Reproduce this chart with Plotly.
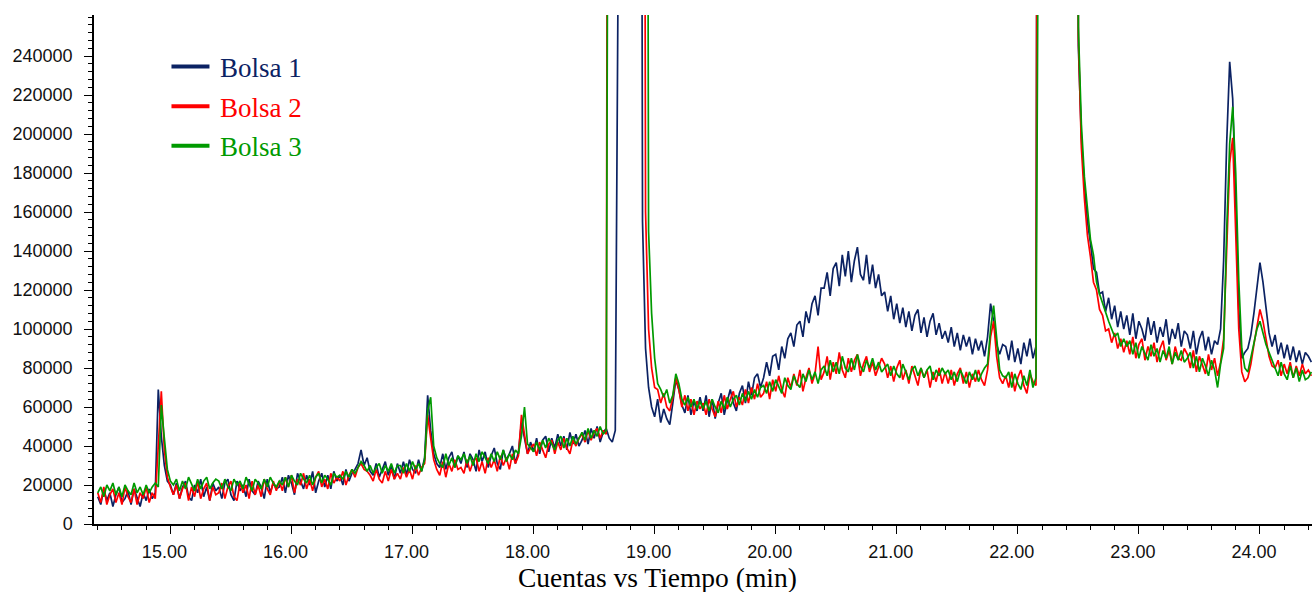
import plotly.graph_objects as go

# Sampling times (min): 0.025-min steps from 14.400 to 24.425
tiempo = [round(14.4 + 0.025 * i, 3) for i in range(402)]

# Counts in thousands (900 = above the top of the scale)
bolsa1_k = [
    14, 10, 18, 12, 16, 9, 15, 19, 11, 13, 17, 10, 18, 14, 9, 16, 12, 18, 13, 16,
    69, 45, 30, 22, 20, 15, 21, 13, 19, 22, 14, 12, 20, 16, 23, 14, 19, 12, 21, 17,
    19, 13, 21, 23, 15, 12, 22, 17, 20, 14, 23, 17, 15, 22, 19, 13, 23, 16, 21, 18,
    19, 24, 16, 25, 21, 15, 26, 22, 18, 25, 20, 27, 16, 22, 26, 19, 25, 18, 27, 22,
    25, 20, 28, 22, 26, 28, 31, 38, 30, 34, 27, 25, 31, 24, 28, 32, 25, 30, 23, 31,
    26, 32, 25, 33, 28, 26, 33, 27, 34, 66, 48, 36, 31, 29, 36, 28, 34, 37, 29, 35,
    31, 37, 29, 36, 33, 27, 38, 32, 37, 29, 35, 39, 31, 28, 38, 33, 36, 40, 31, 37,
    52, 44, 36, 42, 37, 44, 36, 43, 45, 37, 44, 39, 46, 40, 45, 38, 47, 41, 46, 40,
    43, 48, 41, 49, 44, 50, 42, 47, 49, 44, 42, 48, 300, 900, 900, 900, 900, 900, 900, 900,
    155, 90, 70, 60, 55, 64, 52, 59, 54, 51, 62, 74, 69, 61, 57, 66, 56, 63, 58, 65,
    58, 66, 55, 64, 54, 62, 67, 56, 63, 69, 62, 58, 67, 71, 62, 73, 66, 75, 77, 70,
    75, 83, 76, 86, 87, 79, 91, 85, 95, 98, 91, 102, 104, 96, 109, 103, 113, 117, 107, 121,
    121, 129, 117, 131, 134, 122, 138, 127, 140, 124, 135, 142, 128, 125, 138, 123, 133, 121, 128, 117,
    119, 109, 117, 105, 113, 103, 111, 101, 109, 99, 107, 110, 98, 106, 96, 104, 108, 97, 103, 95,
    99, 93, 101, 91, 98, 89, 97, 91, 96, 87, 95, 89, 94, 86, 96, 113, 104, 92, 87, 92,
    91, 84, 94, 83, 90, 82, 93, 86, 95, 85, 91, 900, 900, 900, 900, 900, 900, 900, 900, 900,
    900, 900, 900, 900, 245, 198, 174, 155, 144, 131, 129, 118, 119, 109, 116, 105, 112, 101, 109, 100,
    107, 97, 108, 95, 104, 100, 94, 106, 97, 104, 93, 101, 96, 105, 92, 100, 95, 103, 91, 99,
    97, 90, 99, 87, 95, 99, 89, 96, 87, 94, 92, 100, 135, 195, 237, 218, 165, 110, 85, 88,
    90, 97, 108, 122, 134, 124, 110, 98, 91, 97, 87, 93, 85, 92, 84, 91, 83, 89, 82, 88,
    86, 83,
]

bolsa2_k = [
    16, 11, 19, 10, 15, 18, 11, 16, 10, 19, 14, 11, 18, 10, 16, 13, 19, 11, 16, 13,
    40, 68, 38, 24, 19, 15, 20, 13, 18, 21, 12, 19, 14, 22, 13, 18, 21, 12, 19, 15,
    16, 21, 13, 19, 22, 14, 12, 21, 16, 20, 13, 22, 15, 20, 14, 23, 18, 15, 22, 17,
    22, 17, 24, 19, 25, 16, 23, 20, 26, 18, 23, 17, 24, 27, 19, 23, 18, 26, 21, 24,
    22, 27, 20, 25, 28, 24, 29, 31, 28, 27, 25, 22, 28, 23, 21, 27, 22, 28, 23, 26,
    23, 29, 24, 28, 23, 30, 25, 29, 31, 56, 44, 33, 28, 25, 32, 24, 31, 27, 33, 28,
    29, 26, 33, 27, 32, 34, 27, 32, 26, 34, 29, 33, 27, 35, 30, 34, 28, 36, 31, 35,
    56, 47, 36, 39, 41, 35, 42, 38, 34, 41, 43, 36, 42, 38, 44, 39, 36, 43, 40, 44,
    46, 42, 48, 43, 47, 49, 44, 48, 46, 900, 900, 900, 900, 900, 900, 900, 900, 900, 900, 900,
    900, 160, 100, 80, 70, 69, 62, 67, 60, 58, 65, 75, 69, 60, 66, 58, 64, 56, 63, 59,
    62, 56, 64, 59, 55, 63, 57, 66, 59, 64, 68, 60, 65, 61, 69, 62, 70, 64, 72, 65,
    67, 73, 64, 74, 68, 76, 69, 65, 75, 70, 77, 71, 79, 68, 75, 80, 72, 77, 91, 74,
    78, 86, 74, 83, 77, 88, 79, 75, 85, 78, 84, 87, 76, 82, 86, 78, 83, 76, 81, 85,
    82, 75, 81, 73, 80, 84, 74, 79, 72, 81, 76, 71, 80, 75, 79, 70, 78, 73, 80, 72,
    78, 72, 79, 71, 77, 80, 72, 78, 70, 77, 73, 79, 74, 71, 79, 96, 104, 86, 75, 72,
    76, 70, 78, 68, 75, 79, 71, 67, 77, 73, 71, 900, 900, 900, 900, 900, 900, 900, 900, 900,
    900, 900, 900, 900, 250, 193, 167, 148, 137, 124, 120, 110, 107, 99, 100, 93, 98, 90, 95, 88,
    94, 87, 96, 85, 92, 95, 84, 91, 86, 93, 83, 90, 94, 84, 89, 82, 91, 85, 84, 90,
    87, 80, 89, 78, 86, 82, 77, 87, 79, 85, 76, 83, 95, 140, 185, 198, 150, 100, 78, 73,
    75, 82, 92, 102, 110, 104, 95, 86, 81, 80, 84, 76, 82, 77, 83, 75, 81, 76, 82, 77,
    79, 76,
]

bolsa3_k = [
    16, 19, 14, 20, 17, 21, 15, 19, 14, 20, 17, 15, 21, 16, 19, 15, 20, 16, 19, 21,
    19, 61, 44, 28, 22, 20, 23, 17, 22, 18, 24, 20, 17, 23, 18, 22, 24, 18, 21, 23,
    22, 18, 23, 19, 17, 23, 20, 22, 18, 24, 20, 17, 23, 21, 18, 23, 19, 24, 21, 19,
    22, 20, 24, 19, 25, 22, 20, 26, 23, 21, 25, 20, 24, 26, 21, 25, 23, 20, 26, 24,
    25, 23, 27, 24, 28, 26, 29, 32, 30, 27, 30, 26, 29, 31, 26, 30, 27, 31, 26, 30,
    30, 26, 31, 27, 32, 28, 31, 27, 33, 58, 65, 40, 34, 31, 29, 36, 30, 34, 29, 35,
    33, 36, 31, 35, 30, 36, 32, 37, 34, 31, 36, 32, 37, 33, 38, 32, 36, 33, 38, 36,
    45, 60, 41, 39, 37, 42, 38, 43, 39, 44, 41, 38, 43, 45, 39, 44, 40, 45, 41, 44,
    47, 43, 49, 44, 48, 45, 50, 46, 48, 600, 900, 900, 900, 900, 900, 900, 900, 900, 900, 900,
    900, 900, 150, 108, 85, 72, 69, 65, 69, 62, 66, 77, 72, 64, 61, 65, 60, 64, 59, 63,
    59, 63, 58, 64, 60, 57, 63, 59, 65, 60, 64, 66, 61, 67, 63, 68, 64, 69, 65, 70,
    71, 67, 73, 68, 74, 70, 67, 75, 71, 69, 76, 72, 70, 77, 73, 79, 74, 78, 72, 79,
    81, 76, 84, 78, 83, 77, 86, 80, 78, 85, 79, 87, 81, 78, 84, 80, 85, 79, 83, 78,
    80, 82, 76, 81, 77, 75, 82, 78, 74, 79, 81, 76, 80, 75, 79, 81, 74, 79, 76, 80,
    77, 79, 74, 78, 73, 79, 75, 72, 78, 74, 79, 73, 77, 80, 82, 100, 112, 95, 79, 76,
    75, 78, 70, 77, 72, 69, 76, 71, 79, 70, 75, 400, 900, 900, 900, 900, 900, 900, 900, 900,
    900, 900, 900, 900, 255, 205, 178, 160, 146, 138, 124, 118, 113, 108, 104, 100, 96, 98, 91, 95,
    91, 94, 87, 93, 85, 91, 87, 84, 92, 86, 90, 83, 89, 85, 91, 82, 88, 84, 89, 83,
    85, 88, 80, 86, 78, 85, 81, 76, 84, 79, 70, 82, 90, 150, 195, 214, 180, 125, 90, 80,
    78, 85, 93, 100, 104, 98, 92, 88, 84, 80, 76, 83, 77, 74, 81, 75, 80, 73, 79, 74,
    75, 78,
]

nombres = ["Bolsa 1", "Bolsa 2", "Bolsa 3"]
colores = ["#0b2263", "#ff0000", "#009a00"]
valores = [bolsa1_k, bolsa2_k, bolsa3_k]
marcas_y = [0, 20000, 40000, 60000, 80000, 100000, 120000, 140000,
            160000, 180000, 200000, 220000, 240000]

fig = go.Figure()
for nombre, vals, color in zip(nombres, valores, colores):
    fig.add_trace(go.Scatter(
        x=tiempo, y=[v * 1000 for v in vals], mode="lines",
        line=dict(color=color, width=1.7), showlegend=False,
        hoverinfo="skip",
    ))
for nombre, color in zip(nombres, colores):
    fig.add_trace(go.Scatter(
        x=[None], y=[None], mode="lines",
        line=dict(color=color, width=4),
        name=f'<span style="color:{color}">\u2009{nombre}</span>',
        legendgroup=nombre,
    ))

tickfont = dict(family="Liberation Sans, Arial, sans-serif", size=18, color="#111111")
serif = "Liberation Serif, Times New Roman, serif"

fig.update_layout(
    width=1312, height=592,
    margin=dict(l=94, r=0, t=15, b=68),
    paper_bgcolor="white", plot_bgcolor="white",
    showlegend=True,
    legend=dict(
        x=0.0595, y=0.946, xanchor="left", yanchor="top",
        font=dict(family=serif, size=27),
        bgcolor="rgba(0,0,0,0)", borderwidth=0,
        traceorder="grouped", tracegroupgap=1.5, itemwidth=38,
    ),
    xaxis=dict(
        range=[14.369, 24.43], tick0=15, dtick=1, tickformat=".2f",
        ticks="outside", ticklen=8, tickwidth=1.2, tickcolor="black",
        showline=True, linecolor="black", linewidth=1.5,
        showgrid=False, zeroline=False, tickfont=tickfont,
        ticklabelshift=-6, ticklabelstandoff=3,
        minor=dict(dtick=0.2, tick0=15, ticks="outside", ticklen=4,
                   tickwidth=1, tickcolor="black", showgrid=False),
    ),
    yaxis=dict(
        range=[0, 261026], tickmode="array", tickvals=marcas_y,
        tickformat="d",
        ticks="outside", ticklen=8, tickwidth=1.2, tickcolor="black",
        showline=True, linecolor="black", linewidth=1.5,
        showgrid=False, zeroline=False, tickfont=tickfont,
        ticklabelstandoff=8,
        minor=dict(dtick=4000, tick0=0, ticks="outside", ticklen=4,
                   tickwidth=1, tickcolor="black", showgrid=False),
    ),
    annotations=[dict(
        text="Cuentas vs Tiempo (min)", xref="paper", yref="paper",
        x=0.463, y=-0.106, xanchor="center", yanchor="middle",
        showarrow=False, font=dict(family=serif, size=27.5, color="black"),
    )],
)

fig.write_html("out.html", config={"displayModeBar": False},
               post_script="document.body.style.margin='0';")
